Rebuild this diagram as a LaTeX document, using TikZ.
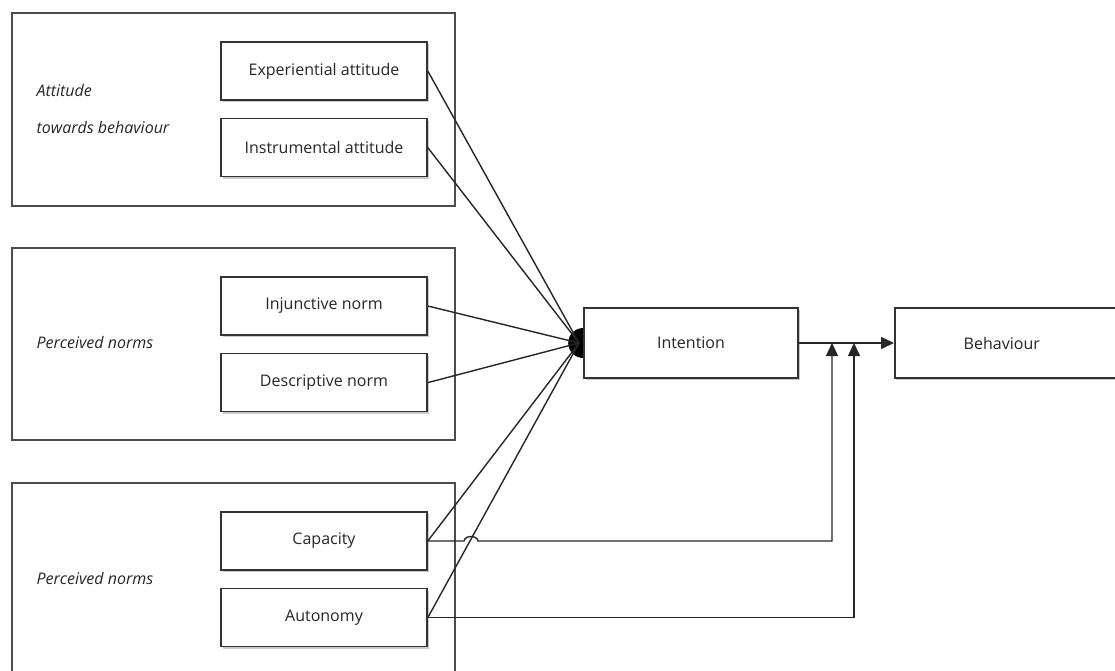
\documentclass[tikz,border=0pt]{standalone}
\usepackage{fontspec}
\setmainfont{Open Sans}
\usepackage{tikz}
\usetikzlibrary{arrows.meta, positioning, shadows, backgrounds}
\tikzstyle{itembox} = [draw=black!80, line width=1.6pt, rectangle, fill=white,
   minimum width=206pt, minimum height=58pt, inner sep=0pt,
   font=\fontsize{16}{19}\selectfont, text=black!85,
   drop shadow={shadow xshift=1.5pt, shadow yshift=-2pt, fill=black!35, opacity=0.6}]
\tikzstyle{groupbox} = [draw=black!70, line width=1.6pt, rectangle, inner sep=0pt,
   minimum width=443pt, anchor=north west]
\tikzstyle{grouplabel} = [anchor=west, align=left, text=black!85,
   font=\fontsize{16}{37}\selectfont\itshape]
\tikzstyle{conn} = [black!85, line width=1.4pt]
\tikzstyle{tip} = [-{Triangle[length=13pt,width=12pt]}]

\begin{document}
\begin{tikzpicture}[x=1pt, y=-1pt]
  \useasboundingbox (0,0) rectangle (1115,671);
  \clip (0,0) rectangle (1115,671);

  % outer boxes, the last one runs off the page
  \node[groupbox, minimum height=193pt] (g1) at (11,12) {};
  \node[groupbox, minimum height=192pt] (g2) at (11,247) {};
  \node[groupbox, minimum height=230pt] (g3) at (11,482) {};
  \node[grouplabel] (l1) at (33,109) {Attitude\\towards behaviour};
  \node[grouplabel] (l2) at (33,342) {Perceived norms};
  \node[grouplabel] (l3) at (33,578) {Perceived norms};

  \node[itembox] (exp) at (324,71) {Experiential attitude};
  \node[itembox, below=17pt of exp] (ins) {Instrumental attitude};
  \node[itembox] (inj) at (324,306) {Injunctive norm};
  \node[itembox, below=17pt of inj] (des) {Descriptive norm};
  \node[itembox] (cap) at (324,541) {Capacity};
  \node[itembox, below=17pt of cap] (aut) {Autonomy};

  \node[itembox, minimum width=214pt, minimum height=70pt] (int) at (691,343) {Intention};
  \node[itembox, minimum width=240pt, minimum height=70pt, anchor=west,
        label={[xshift=-13pt, font=\fontsize{16}{19}\selectfont, text=black!85]center:Behaviour}]
        (beh) at (894,343) {};

  \coordinate (hub) at (579,343);
  \coordinate (j1) at (832,343);
  \coordinate (j2) at (854,343);

  % black half dot behind Intention
  \begin{scope}[on background layer]
    \fill (int.west) circle[radius=15pt];
  \end{scope}

  \foreach \n in {exp, ins, inj, des, cap, aut}
    \draw[conn] (\n.east) -- (hub);

  \draw[conn, tip] (int) -- (beh);
  % capacity hops over the autonomy line
  \draw[conn, tip] (cap.east) -- (464,541) .. controls (465,535) and (477,535) .. (478,541) -| (j1);
  \draw[conn, tip] (aut.east) -| (j2);
\end{tikzpicture}
\end{document}
